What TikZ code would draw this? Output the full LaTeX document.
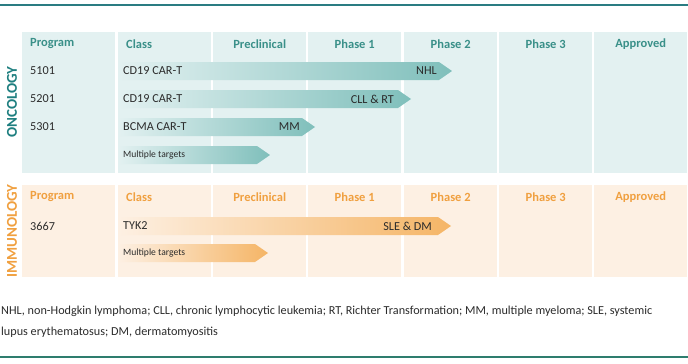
\documentclass[tikz,border=0pt]{standalone}
\usepackage{fontspec}
\setmainfont{Carlito}
\usetikzlibrary{positioning}

\definecolor{tealbg}{HTML}{E3F1F1}
\definecolor{tealtxt}{HTML}{3A9089}
\definecolor{tealdark}{HTML}{1F7F80}
\definecolor{tealbar}{HTML}{7FBFBB}
\definecolor{orangebg}{HTML}{FDF0E3}
\definecolor{orangetxt}{HTML}{F0A040}
\definecolor{orangebar}{HTML}{F5B566}
\definecolor{ruletop}{HTML}{2A7C82}
\definecolor{rulebot}{HTML}{2E7D6E}
\definecolor{bodytxt}{HTML}{2B2B2B}

\tikzset{
every picture/.style={x=1pt, y=-1pt},
panel/.style={fill=#1, draw=none, inner sep=0pt, minimum width=93pt, anchor=north west},
head/.style={font=\bfseries\fontsize{12.5}{14}\selectfont, text=#1, inner sep=0pt},
cell/.style={font=\fontsize{12.2}{14}\selectfont, text=bodytxt, anchor=west, inner sep=0pt},
smallcell/.style={font=\fontsize{9.6}{11}\selectfont, text=bodytxt, anchor=west, inner sep=0pt},
sidelabel/.style={font=\bfseries\fontsize{15}{17}\selectfont, text=#1, rotate=90, inner sep=0pt}
}

\begin{document}
\begin{tikzpicture}
      \useasboundingbox (0,0) rectangle (688,364);
      \draw [ruletop, line width=1.5pt] (0,5) -- (688,5);
      \draw [rulebot, line width=1.5pt] (0,357) -- (688,357);
      % column panels
      \foreach \x/\n in {22/prog,118/cls,213/pre,308/ph1,404/ph2,499/ph3,594/appr}{
        \node [panel=tealbg, minimum height=141pt] (onc-\n) at (\x,32) {};
        \node [panel=orangebg, minimum height=92pt] (imm-\n) at (\x,185) {};
      }
      % headers
      \foreach \s/\c in {onc/tealtxt,imm/orangetxt}{
        \node [head=\c, anchor=west] (\s-hprog) at ([xshift=8pt, yshift=-12pt]\s-prog.north west) {Program};
        \node [head=\c, anchor=west] (\s-hcls) at ([xshift=8pt, yshift=-12pt]\s-cls.north west) {Class};
        \node [head=\c] (\s-hpre) at ([yshift=-12pt]\s-pre.north) {Preclinical};
        \node [head=\c] (\s-hph1) at ([yshift=-12pt]\s-ph1.north) {Phase 1};
        \node [head=\c] (\s-hph2) at ([yshift=-12pt]\s-ph2.north) {Phase 2};
        \node [head=\c] (\s-hph3) at ([yshift=-12pt]\s-ph3.north) {Phase 3};
        \node [head=\c] (\s-happr) at ([yshift=-12pt]\s-appr.north) {Approved};
      }
      \node [sidelabel=tealdark] (onclabel) at (12,102) {ONCOLOGY};
      \node [sidelabel=orangetxt] (immlabel) at (12,231) {IMMUNOLOGY};
      % oncology bars
      \shade [left color=tealbg, right color=tealbar] (118,62) -- (439,62) -- (452,71) -- (439,80) -- (118,80) -- cycle;
      \shade [left color=tealbg, right color=tealbar] (118,90) -- (398,90) -- (411,99) -- (398,108) -- (118,108) -- cycle;
      \shade [left color=tealbg, right color=tealbar] (118,118) -- (302,118) -- (315,127) -- (302,136) -- (118,136) -- cycle;
      \shade [left color=tealbg, right color=tealbar] (118,146) -- (257,146) -- (270,155) -- (257,164) -- (118,164) -- cycle;
      % immunology bars
      \shade [left color=orangebg, right color=orangebar] (118,217) -- (438,217) -- (451,226) -- (438,235) -- (118,235) -- cycle;
      \shade [left color=orangebg, right color=orangebar] (118,244) -- (255,244) -- (268,253) -- (255,262) -- (118,262) -- cycle;
      % rows
      \node [cell] (p5101) at (30,71) {5101};
      \node [cell] (p5201) at (30,99) {5201};
      \node [cell] (p5301) at (30,127) {5301};
      \node [cell] (p3667) at (30,226) {3667};
      \node [cell] (c5101) at (123,71) {CD19 CAR-T};
      \node [cell] (c5201) at (123,99) {CD19 CAR-T};
      \node [cell] (c5301) at (123,127) {BCMA CAR-T};
      \node [smallcell] (conc) at (123,155) {Multiple targets};
      \node [cell] (c3667) at (123,226) {TYK2};
      \node [smallcell] (cimm) at (123,253) {Multiple targets};
      \node [cell, anchor=east] (i5101) at (437,71) {NHL};
      \node [cell, anchor=east] (i5201) at (394,99) {CLL \& RT};
      \node [cell, anchor=east] (i5301) at (300,127) {MM};
      \node [cell, anchor=east] (i3667) at (432,226) {SLE \& DM};
      % footnote
      \node [cell] (note1) at (1,311) {NHL, non-Hodgkin lymphoma; CLL, chronic lymphocytic leukemia; RT, Richter Transformation; MM, multiple myeloma; SLE, systemic};
      \node [cell] (note2) at (1,332) {lupus erythematosus; DM, dermatomyositis};
\end{tikzpicture}
\end{document}
